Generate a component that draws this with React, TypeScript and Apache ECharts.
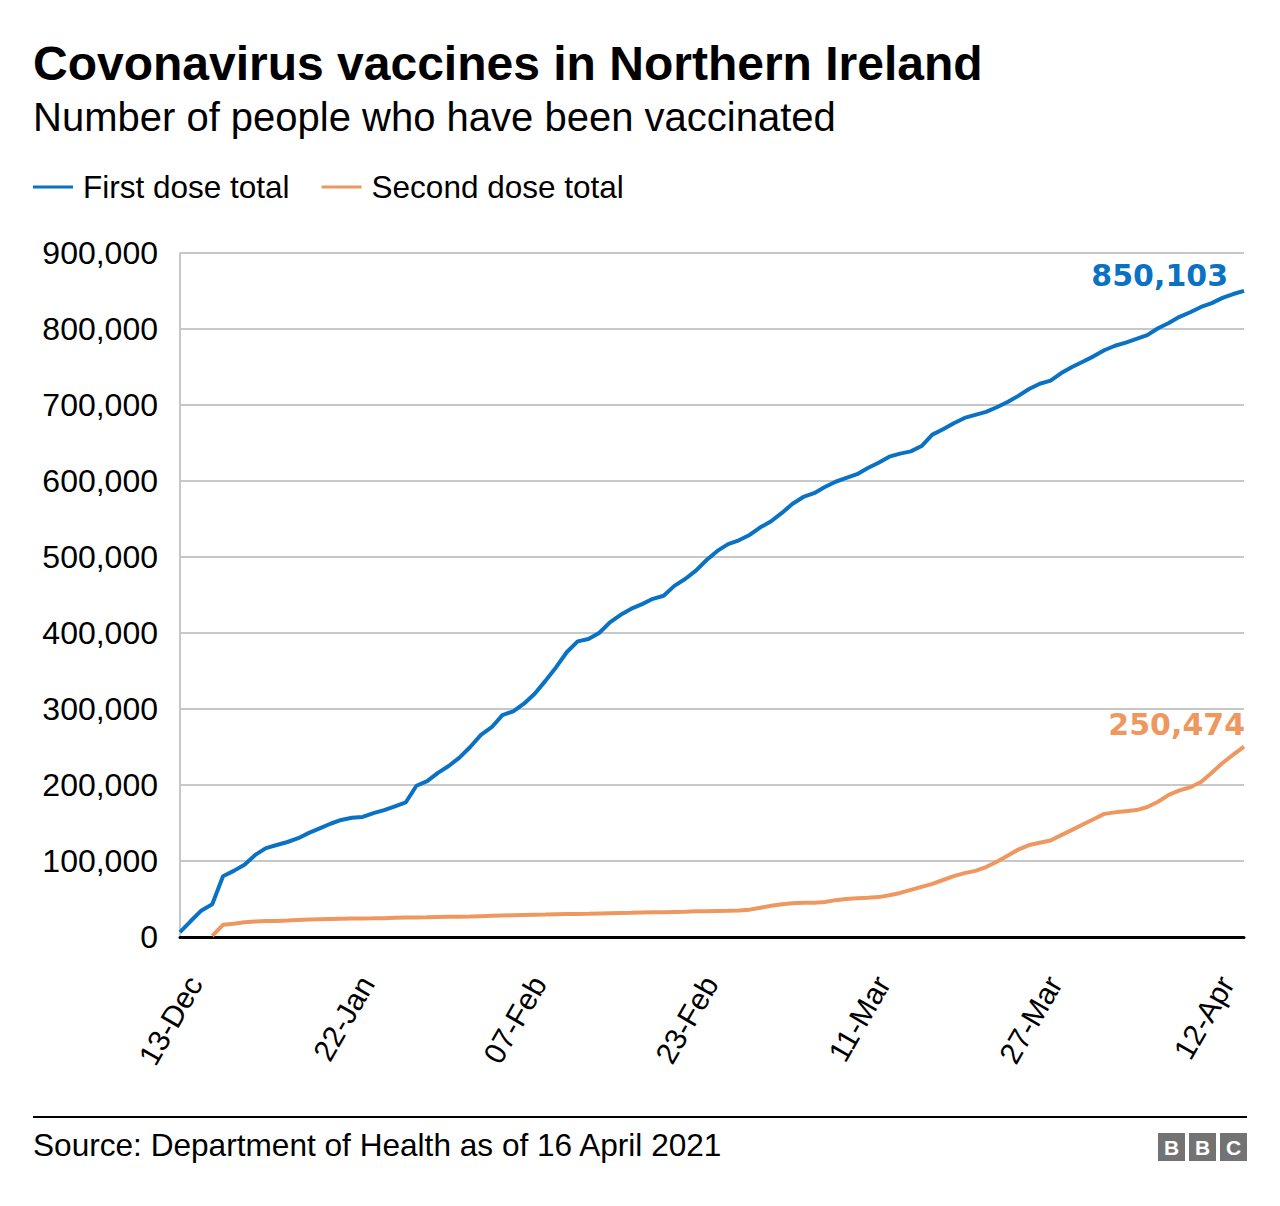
import React, { useEffect, useRef } from 'react';
import * as echarts from 'echarts';

const dates: string[] = [
  '13-Dec', '20-Dec', '27-Dec', '03-Jan', '10-Jan', '11-Jan', '12-Jan', '13-Jan', '14-Jan', '15-Jan',
  '16-Jan', '17-Jan', '18-Jan', '19-Jan', '20-Jan', '21-Jan', '22-Jan', '23-Jan', '24-Jan', '25-Jan',
  '26-Jan', '27-Jan', '28-Jan', '29-Jan', '30-Jan', '31-Jan', '01-Feb', '02-Feb', '03-Feb', '04-Feb',
  '05-Feb', '06-Feb', '07-Feb', '08-Feb', '09-Feb', '10-Feb', '11-Feb', '12-Feb', '13-Feb', '14-Feb',
  '15-Feb', '16-Feb', '17-Feb', '18-Feb', '19-Feb', '20-Feb', '21-Feb', '22-Feb', '23-Feb', '24-Feb',
  '25-Feb', '26-Feb', '27-Feb', '28-Feb', '01-Mar', '02-Mar', '03-Mar', '04-Mar', '05-Mar', '06-Mar',
  '07-Mar', '08-Mar', '09-Mar', '10-Mar', '11-Mar', '12-Mar', '13-Mar', '14-Mar', '15-Mar', '16-Mar',
  '17-Mar', '18-Mar', '19-Mar', '20-Mar', '21-Mar', '22-Mar', '23-Mar', '24-Mar', '25-Mar', '26-Mar',
  '27-Mar', '28-Mar', '29-Mar', '30-Mar', '31-Mar', '01-Apr', '02-Apr', '03-Apr', '04-Apr', '05-Apr',
  '06-Apr', '07-Apr', '08-Apr', '09-Apr', '10-Apr', '11-Apr', '12-Apr', '13-Apr', '14-Apr', '15-Apr',
];

const firstDose: number[] = [
  6500, 21000, 35000, 43000, 80000, 87000, 95000, 108000, 117000, 121000,
  125000, 130000, 137000, 143000, 149000, 154000, 157000, 158000, 163000, 167000,
  172000, 177000, 199000, 205000, 216000, 225000, 236000, 250000, 266000, 276000,
  292000, 297000, 307000, 320000, 337000, 355000, 375000, 389000, 392000, 400000,
  414000, 424000, 432000, 438000, 445000, 449000, 462000, 471000, 482000, 496000,
  508000, 517000, 522000, 529000, 539000, 547000, 558000, 570000, 579000, 584000,
  592000, 599000, 604000, 609000, 617000, 624000, 632000, 636000, 639000, 646000,
  661000, 668000, 676000, 683000, 687000, 691000, 697000, 704000, 712000, 721000,
  728000, 732000, 742000, 750000, 757000, 764000, 772000, 778000, 782000, 787000,
  792000, 801000, 808000, 816000, 822000, 829000, 834000, 841000, 846000, 850103,
];

const secondDose: (number | null)[] = [
  null, null, null, 1500, 16000, 17500, 19500, 20500, 21000, 21200,
  21800, 22500, 23000, 23400, 23700, 24000, 24300, 24500, 24600, 24800,
  25400, 25600, 25800, 26000, 26300, 26500, 26700, 27000, 27400, 27800,
  28200, 28600, 29000, 29300, 29600, 30000, 30200, 30400, 30600, 30900,
  31200, 31500, 31800, 32200, 32500, 32700, 33000, 33300, 33800, 34000,
  34300, 34600, 35000, 36000, 38500, 41000, 43000, 44500, 45000, 45200,
  46000, 48500, 50000, 51000, 51500, 52500, 55000, 58000, 62000, 66000,
  70000, 75000, 80000, 84000, 87000, 92000, 99000, 107000, 115000, 121000,
  124000, 127000, 134000, 141000, 148000, 155000, 162000, 164000, 165500, 167000,
  171000, 178000, 187000, 193000, 197000, 204000, 216000, 229000, 240000, 250474,
];

const seriesNames = ['First dose total', 'Second dose total'];
const titleText = 'Covonavirus vaccines in Northern Ireland';
const subtitleText = 'Number of people who have been vaccinated';
const sourceText = 'Source: Department of Health as of 16 April 2021';
const logoLetters = ['B', 'B', 'C'];

const FONT = "'Liberation Sans', Arial, Helvetica, sans-serif";
const LABEL_FONT = "'DejaVu Sans', Verdana, sans-serif";
const BLUE = '#0a72c4';
const ORANGE = '#ee985f';

const fmt = (v: number) => v.toLocaleString('en-US');

export default function App() {
  const ref = useRef<HTMLDivElement>(null);

  useEffect(() => {
    if (!ref.current) return;
    const chart = echarts.init(ref.current, null, { renderer: 'svg' });
    const last = dates.length - 1;

    const endMark = (value: number, color: string, offset: number[]) => ({
      symbol: 'circle',
      symbolSize: 0,
      silent: true,
      data: [{ coord: [dates[last], value], value }],
      label: {
        show: true,
        position: 'inside',
        formatter: () => fmt(value),
        color,
        fontSize: 30,
        fontWeight: 'bold',
        fontFamily: LABEL_FONT,
        align: 'right',
        verticalAlign: 'middle',
        offset,
      },
    });

    const logo: any[] = [];
    logoLetters.forEach((l, i) => {
      const x = 1158 + i * 31;
      logo.push({
        type: 'rect',
        shape: { x, y: 1133, width: 27, height: 28 },
        style: { fill: '#737373' },
      });
      logo.push({
        type: 'text',
        x: x + 13.5,
        y: 1147.5,
        style: {
          text: l,
          fill: '#ffffff',
          font: `bold 21px ${FONT}`,
          align: 'center',
          verticalAlign: 'middle',
        },
      });
    });

    chart.setOption({
      animation: false,
      backgroundColor: '#ffffff',
      grid: { left: 180, right: 36, top: 253, bottom: 269, containLabel: false },
      legend: {
        data: seriesNames,
        left: 33,
        top: 171,
        padding: 0,
        icon: 'rect',
        itemWidth: 40,
        itemHeight: 3,
        itemGap: 32,
        textStyle: { fontSize: 31.5, fontFamily: FONT, color: '#000', padding: [0, 0, 0, 5] },
      },
      xAxis: {
        type: 'category',
        data: dates,
        boundaryGap: false,
        axisLine: { show: true, lineStyle: { color: '#000', width: 3 } },
        axisTick: { show: false },
        splitLine: { show: false },
        axisLabel: {
          interval: 15,
          rotate: 60,
          fontSize: 30,
          fontFamily: FONT,
          color: '#000',
          margin: 33,
          align: 'right',
          verticalAlign: 'top',
          lineHeight: 34,
        },
      },
      yAxis: {
        type: 'value',
        min: 0,
        max: 900000,
        interval: 100000,
        axisLine: { show: true, lineStyle: { color: '#c8c8c8', width: 2 } },
        axisTick: { show: false },
        splitLine: { show: true, lineStyle: { color: '#c8c8c8', width: 2 } },
        axisLabel: { fontSize: 32, fontFamily: FONT, color: '#000', margin: 22, formatter: (v: number) => fmt(v) },
      },
      series: [
        {
          name: seriesNames[0],
          type: 'line',
          data: firstDose,
          showSymbol: false,
          symbol: 'none',
          lineStyle: { color: BLUE, width: 4 },
          itemStyle: { color: BLUE },
          z: 3,
          markPoint: endMark(firstDose[last], BLUE, [-16, -15]),
        },
        {
          name: seriesNames[1],
          type: 'line',
          data: secondDose,
          showSymbol: false,
          symbol: 'none',
          lineStyle: { color: ORANGE, width: 4 },
          itemStyle: { color: ORANGE },
          z: 2,
          markPoint: endMark(secondDose[last] as number, ORANGE, [1, -22]),
        },
      ],
      graphic: [
        {
          type: 'text',
          x: 33,
          y: 63,
          style: { text: titleText, fill: '#000', font: `bold 48px ${FONT}`, align: 'left', verticalAlign: 'middle' },
        },
        {
          type: 'text',
          x: 33,
          y: 117,
          style: { text: subtitleText, fill: '#000', font: `40px ${FONT}`, align: 'left', verticalAlign: 'middle' },
        },
        {
          type: 'line',
          shape: { x1: 33, y1: 1117, x2: 1247, y2: 1117 },
          style: { stroke: '#000', lineWidth: 2 },
        },
        {
          type: 'text',
          x: 33,
          y: 1145,
          style: { text: sourceText, fill: '#000', font: `31.6px ${FONT}`, align: 'left', verticalAlign: 'middle' },
        },
        ...logo,
      ],
    });

    return () => chart.dispose();
  }, []);

  return (
    <div
      ref={ref}
      style={{ position: 'absolute', left: 0, top: 0, width: 1280, height: 1206, background: '#fff' }}
    />
  );
}
